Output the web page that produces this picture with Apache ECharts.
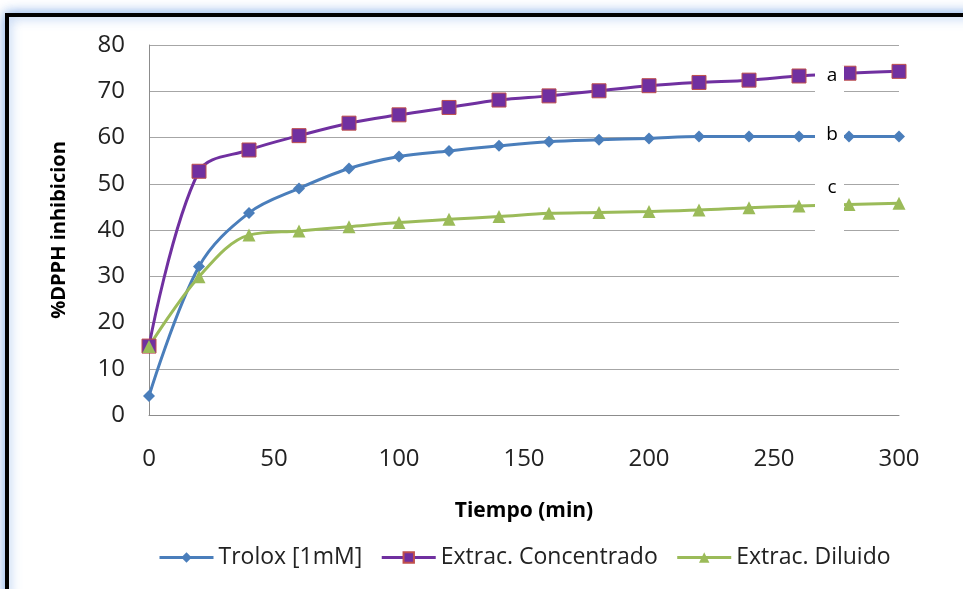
<!DOCTYPE html>
<html><head><meta charset="utf-8">
<script src="https://cdn.jsdelivr.net/npm/echarts@6/dist/echarts.min.js"></script>
<style>
html,body{margin:0;padding:0;background:#fff;overflow:hidden;width:963px;height:589px;}
#chart{position:absolute;left:0;top:0;width:963px;height:589px;}
</style></head>
<body>
<div id="chart"></div>
<script>
const times = [0,20,40,60,80,100,120,140,160,180,200,220,240,260,280,300];
const trolox = [4.1,32.1,43.7,49.0,53.3,55.9,57.1,58.2,59.1,59.5,59.8,60.2,60.2,60.2,60.2,60.2];
const concentrado = [14.9,52.7,57.3,60.4,63.1,64.9,66.5,68.1,69.0,70.1,71.2,71.9,72.4,73.3,73.9,74.3];
const diluido = [14.8,29.9,38.9,39.8,40.7,41.6,42.3,42.9,43.6,43.8,44.0,44.3,44.8,45.2,45.5,45.8];
const seriesNames = ['Trolox [1mM]','Extrac. Concentrado','Extrac. Diluido'];
const letters = ['a','b','c'];
// annotation text boxes: [x centre, y of box top, y of box bottom] in data units
const letterBoxes = [[272.4,75.6,68.6],[272.4,62.9,57.6],[272.4,51.5,38.5]];

const font = 'Open Sans, Noto Sans, sans-serif';
const chart = echarts.init(document.getElementById('chart'));
const pair = arr => times.map((t,i)=>[t,arr[i]]);
chart.setOption({
  animation:false,
  grid:{left:149,right:64,top:45,bottom:174},
  xAxis:{type:'value',min:0,max:300,interval:50,
    name:'Tiempo (min)',nameLocation:'middle',nameGap:86,
    nameTextStyle:{fontFamily:font,fontWeight:'bold',fontSize:21,color:'#000'},
    axisLine:{show:true,lineStyle:{color:'#8c8c8c',width:1}},
    axisTick:{show:false},splitLine:{show:false},
    axisLabel:{fontFamily:font,fontSize:24,color:'#222',margin:32}},
  yAxis:{type:'value',min:0,max:80,interval:10,
    name:'%DPPH inhibicion',nameLocation:'middle',nameGap:80,
    nameTextStyle:{fontFamily:font,fontWeight:'bold',fontSize:20,color:'#000'},
    axisLine:{show:true,lineStyle:{color:'#8c8c8c',width:1}},
    axisTick:{show:false},
    splitLine:{lineStyle:{color:'#a6a6a6',width:1}},
    axisLabel:{fontFamily:font,fontSize:24,color:'#222',margin:24}},
  legend:{top:541,left:153,itemGap:18,itemWidth:54,itemHeight:13,
    lineStyle:{width:3},
    textStyle:{fontFamily:font,fontSize:23,color:'#222'},
    data:seriesNames},
  series:[
    {name:seriesNames[0],type:'line',data:pair(trolox),smooth:0.35,symbol:'diamond',symbolSize:12,
      lineStyle:{color:'#4a7ebb',width:3},itemStyle:{color:'#4a7ebb'}},
    {name:seriesNames[1],type:'line',data:pair(concentrado),smooth:0.35,symbol:'rect',symbolSize:14,
      lineStyle:{color:'#7030a0',width:3},itemStyle:{color:'#7030a0',borderColor:'#c0504d',borderWidth:1}},
    {name:seriesNames[2],type:'line',data:pair(diluido),smooth:0.35,symbol:'triangle',symbolSize:13,
      lineStyle:{color:'#9bbb59',width:3},itemStyle:{color:'#9bbb59'}}
  ]
});
const graphics = [{type:'rect',z:-10,silent:true,shape:{x:7,y:15,width:1100,height:700},
    style:{fill:'#fff',stroke:'#000',lineWidth:4,shadowBlur:12,shadowColor:'rgba(100,150,225,0.8)'}}];
letterBoxes.forEach((b,i)=>{
  const top = chart.convertToPixel({gridIndex:0},[b[0],b[1]]);
  const bot = chart.convertToPixel({gridIndex:0},[b[0],b[2]]);
  graphics.push({type:'rect',z:100,silent:true,shape:{x:top[0]-15,y:top[1],width:29,height:bot[1]-top[1]},style:{fill:'#fff'}});
  graphics.push({type:'text',z:101,silent:true,x:top[0]+2,y:top[1]+1,
    style:{text:letters[i],fontFamily:font,fontSize:19,fill:'#000',align:'center',verticalAlign:'top'}});
});
chart.setOption({graphic:graphics});
</script>
</body></html>
